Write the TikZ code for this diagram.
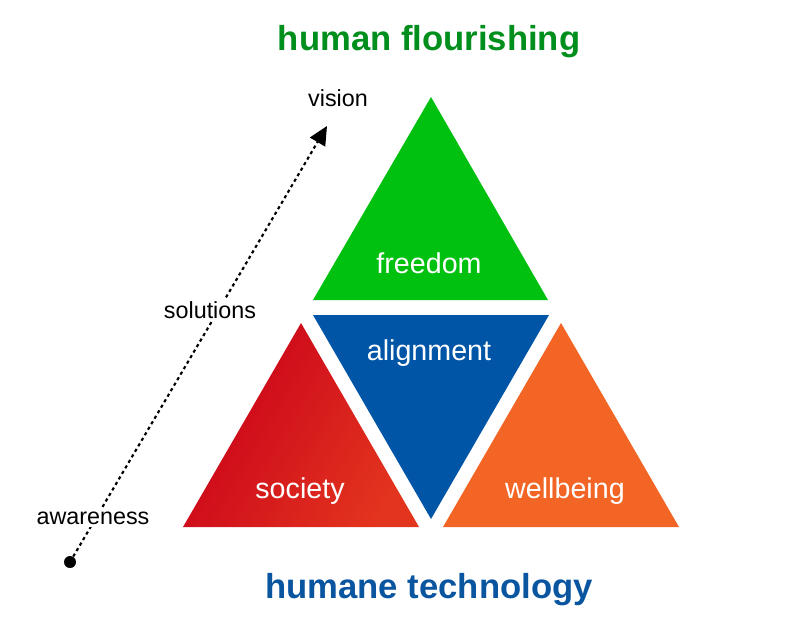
\documentclass[tikz,border=0pt]{standalone}
\usepackage{fontspec}
\setmainfont{Liberation Sans}
\usetikzlibrary{arrows.meta, positioning, calc}
\definecolor{freegreen}{HTML}{00C010}
\definecolor{alignblue}{HTML}{0055A6}
\definecolor{wellorange}{HTML}{F26524}
\definecolor{socdark}{HTML}{C8001A}
\definecolor{soclight}{HTML}{E3341E}
\definecolor{titlegreen}{HTML}{008E1C}
\definecolor{titleblue}{HTML}{0A55A0}
\tikzset{
  tlabel/.style={text=white, font=\fontsize{21.5}{24}\selectfont},
  slabel/.style={text=black, font=\fontsize{17.5}{20}\selectfont},
  title/.style={font=\fontsize{26}{30}\selectfont\bfseries}
}

\begin{document}
\begin{tikzpicture}[x=0.75pt, y=-0.75pt, >=stealth]
		% Page frame
		\useasboundingbox (0,0) rectangle (787,629);
		
		% Triangles (upright ones share apex height, inverted one in the middle)
		\fill[freegreen] (431,97) -- (548,300) -- (313,300) -- cycle;
		\fill[alignblue] (313,315) -- (549,315) -- (431,519) -- cycle;
		\shade[shading=axis, left color=socdark, right color=soclight, shading angle=60]
			(301,323) -- (419,527) -- (183,527) -- cycle;
		\fill[wellorange] (561,323) -- (679,527) -- (443,527) -- cycle;
		
		% Triangle labels
		\node[tlabel] (freedom) at (429,263) {freedom};
		\node[tlabel] (alignment) at (429,353) {alignment};
		\node[tlabel] (society) at (300,491) {society};
		\node[tlabel] (wellbeing) at (565,491) {wellbeing};
		
		% Path from awareness to vision
		\coordinate (start) at (70,562);
		\coordinate (tip) at (327,126);
		\fill (start) circle (4.5pt);
		\draw[line width=1.6pt, dash pattern=on 2.4pt off 2.4pt, -{Triangle[length=14pt, width=13pt]}] (start) -- (tip);
		
		% Stage labels (white background hides the line)
		\node[slabel, fill=white, inner sep=2pt] (awareness) at (93,518) {awareness};
		\node[slabel, fill=white, inner sep=2pt] (solutions) at (210,310) {solutions};
		\node[slabel] (vision) at (338,98) {vision};
		
		% Titles
		\node[title, text=titlegreen] (flourishing) at (429,42) {human flourishing};
		\node[title, text=titleblue] (technology) at (429,590) {humane technology};
		
	\end{tikzpicture}
\end{document}
